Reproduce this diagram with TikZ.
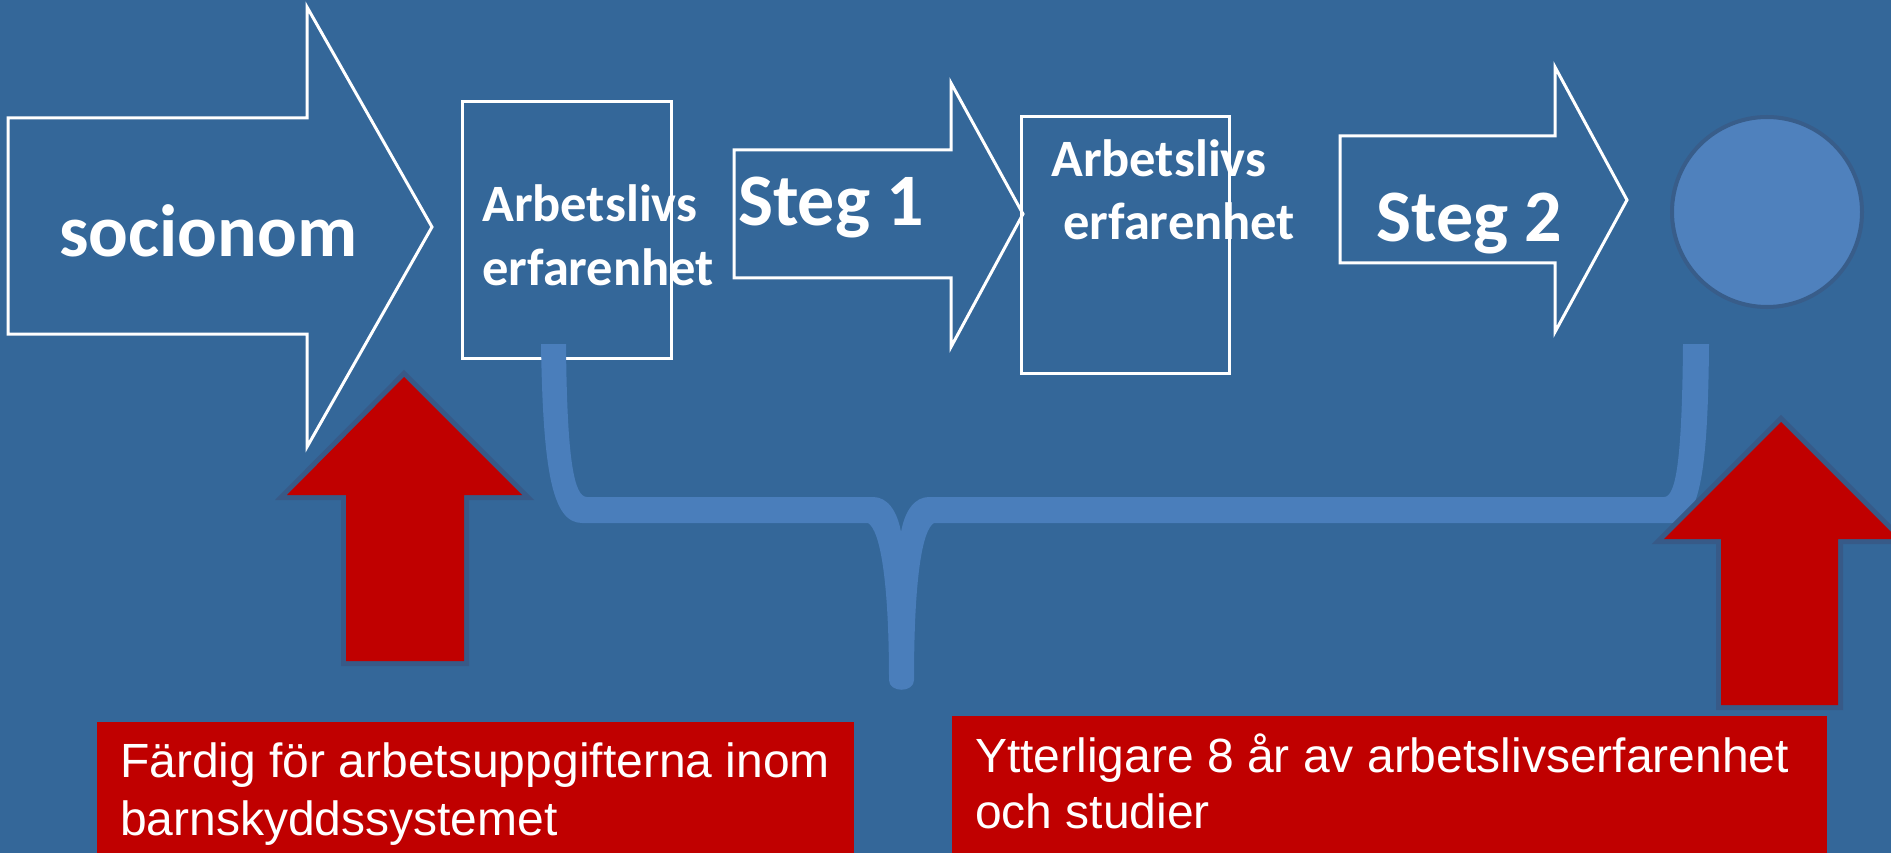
\documentclass[tikz,border=0pt]{standalone}
\usepackage{fontspec}
\setmainfont{Liberation Sans}
\newfontfamily\calfont{Carlito}
\definecolor{bg}{RGB}{52,103,153}
\definecolor{bracecol}{RGB}{74,126,187}
\definecolor{circfill}{RGB}{79,129,189}
\definecolor{circedge}{RGB}{56,93,138}
\definecolor{redfill}{RGB}{192,0,0}
\definecolor{rededge}{RGB}{55,90,136}
\begin{document}
\begin{tikzpicture}[x=1pt,y=-1pt,
  whiteshape/.style={draw=white,line width=3pt,line join=miter},
  bigtxt/.style={anchor=base west,inner sep=0pt,text=white,font=\calfont\bfseries\fontsize{74}{89}\selectfont},
  midtxt/.style={anchor=base west,inner sep=0pt,text=white,font=\calfont\bfseries\fontsize{52.5}{63}\selectfont},
  lowtxt/.style={anchor=base west,inner sep=0pt,text=white,font=\fontsize{48}{58}\selectfont},
  redarrow/.style={fill=redfill,preaction={draw=rededge,line width=10pt,line join=miter}}]
\fill[bg] (0,0) rectangle (1891,853);
\useasboundingbox (0,0) rectangle (1891,853);
\clip (0,0) rectangle (1891,853);
% white arrows and boxes
\draw[whiteshape] (8,118) -- (307,118) -- (307,7) -- (432,227) -- (307,447) -- (307,334) -- (8,334) -- cycle;
\draw[whiteshape] (462,102) rectangle (671,358);
\draw[whiteshape] (734,150) -- (951,150) -- (951,83) -- (1023,214) -- (951,347) -- (951,278) -- (734,278) -- cycle;
\draw[whiteshape] (1021,117) rectangle (1229,373);
\draw[whiteshape] (1340,136) -- (1555,136) -- (1555,67) -- (1627,200) -- (1555,332) -- (1555,263) -- (1340,263) -- cycle;
% circle
\draw[draw=circedge,fill=circfill,line width=4pt] (1767,212) circle[radius=95pt];
% brace
\fill[bracecol] (541,344) .. controls (543,470) and (552,523) .. (582,523)
  -- (868,523) .. controls (880,530) and (889,580) .. (889,680)
  .. controls (889,693) and (914,693) .. (914,680)
  .. controls (914,580) and (922,530) .. (934,523)
  -- (1672,523) .. controls (1700,523) and (1708,470) .. (1709,344)
  -- (1683,344) .. controls (1682,460) and (1676,497) .. (1664,497)
  -- (929,497) .. controls (915,497) and (905,510) .. (901,532)
  .. controls (897,510) and (887,497) .. (873,497)
  -- (587,497) .. controls (574,497) and (567,460) .. (566,344) -- cycle;
% red arrows
\path[redarrow] (404,377) -- (522,495) -- (464,495) -- (464,661) -- (346,661) -- (346,495) -- (287,495) -- cycle;
\path[redarrow] (1781,422) -- (1898,539) -- (1838,539) -- (1838,705) -- (1721,705) -- (1721,539) -- (1664,539) -- cycle;
% red boxes
\fill[redfill] (97,722) rectangle (854,853);
\fill[redfill] (952,716) rectangle (1827,853);
% texts
\node[bigtxt] (soc) at (59,257) {socionom};
\node[midtxt] (a1) at (482,222) {Arbetslivs};
\node[midtxt] (e1) at (482,285) {erfarenhet};
\node[bigtxt] (s1) at (738,226) {Steg 1};
\node[midtxt] (a2) at (1051,177) {Arbetslivs};
\node[midtxt] (e2) at (1063,240) {erfarenhet};
\node[bigtxt] (s2) at (1376,242) {Steg 2};
\node[lowtxt] (l1) at (120,777) {Färdig för arbetsuppgifterna inom};
\node[lowtxt] (l2) at (120,835) {barnskyddssystemet};
\node[lowtxt] (r1) at (975,772) {Ytterligare 8 år av arbetslivserfarenhet};
\node[lowtxt] (r2) at (975,828) {och studier};
\end{tikzpicture}
\end{document}
